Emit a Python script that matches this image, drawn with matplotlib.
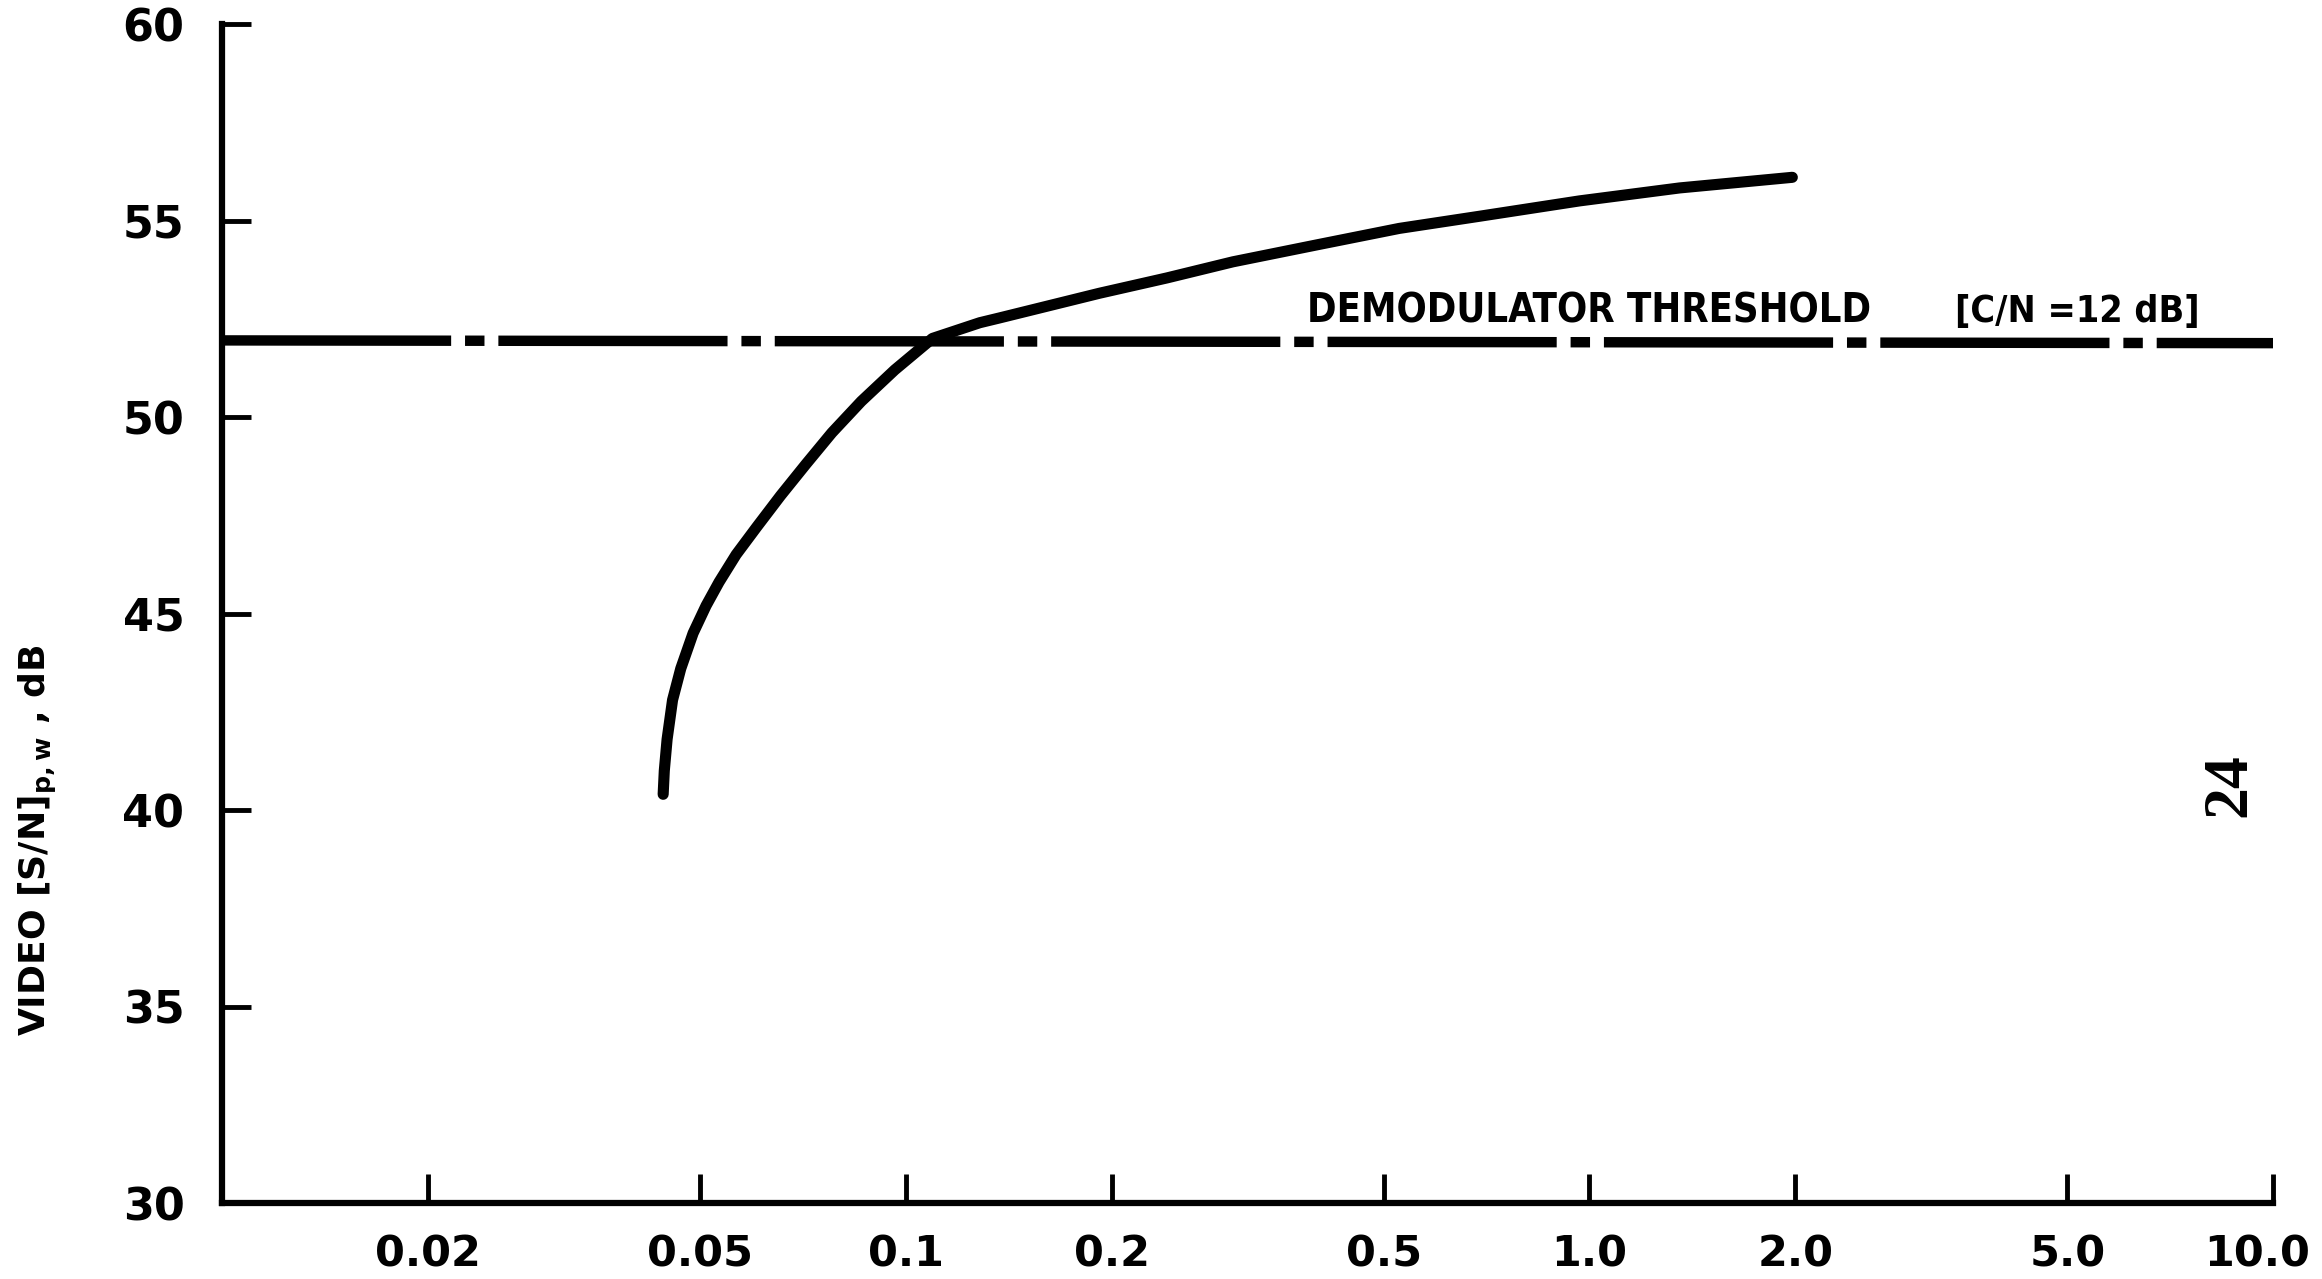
import matplotlib
matplotlib.use("Agg")
import matplotlib.pyplot as plt
from matplotlib.ticker import NullLocator
from matplotlib.transforms import ScaledTranslation

# video S/N curve (x on log scale)
ratio = [0.04418, 0.04435, 0.04477, 0.04560, 0.04688, 0.04887, 0.05105, 0.05333,
         0.05649, 0.06053, 0.06561, 0.07145, 0.07798, 0.08610, 0.09638, 0.1094,
         0.1283, 0.137, 0.192, 0.241, 0.301, 0.399, 0.527,
         0.691, 0.967, 1.355, 1.98]
snr = [40.4, 41.0, 41.8, 42.8, 43.6, 44.5, 45.2, 45.8,
       46.5, 47.2, 48.0, 48.8, 49.6, 50.4, 51.2, 52.0,
       52.4, 52.52, 53.15, 53.54, 53.95, 54.38, 54.8,
       55.11, 55.5, 55.83, 56.1]

# demodulator threshold line
thresh_x = [0.01, 10.0]
thresh_y = [51.95, 51.88]

xticks = [0.02, 0.05, 0.1, 0.2, 0.5, 1.0, 2.0, 5.0, 10.0]
xlabels = ['0.02', '0.05', '0.1', '0.2', '0.5', '1.0', '2.0', '5.0', '10.0']
yticks = [30, 35, 40, 45, 50, 55, 60]

plt.rcParams['font.family'] = 'DejaVu Sans'
plt.rcParams['font.weight'] = 'bold'
plt.rcParams['mathtext.default'] = 'bf'
plt.rcParams['lines.scale_dashes'] = False

fig = plt.figure(figsize=(23.22, 12.79), dpi=100)
ax = fig.add_axes([0.0956, 0.0594, 0.979 - 0.0956, 0.9812 - 0.0594])
ax.set_xscale('log')
ax.set_xlim(0.01, 10)
ax.set_ylim(30, 60)

ax.plot(ratio, snr, color='black', lw=8,
        solid_capstyle='round', solid_joinstyle='round')
line, = ax.plot(thresh_x, thresh_y, color='black', lw=7.5, dash_capstyle='butt')
line.set_dashes((165, 10, 14, 10))

for s in ['top', 'right']:
    ax.spines[s].set_visible(False)
for s in ['left', 'bottom']:
    ax.spines[s].set_linewidth(4.5)

ax.set_xticks(xticks)
ax.xaxis.set_minor_locator(NullLocator())
ax.set_yticks(yticks)
ax.tick_params(direction='in', length=21, width=3.5)
ax.tick_params(axis='x', pad=22, labelsize=31)
ax.tick_params(axis='y', pad=27, labelsize=32)
labels = ax.set_xticklabels(xlabels)
# last label sits a little left of its tick, as on the original sheet
labels[-1].set_transform(labels[-1].get_transform() +
                         ScaledTranslation(-16 / 100, 0, fig.dpi_scale_trans))

ax.text(0.529, 0.747, 'DEMODULATOR THRESHOLD', transform=ax.transAxes,
        fontsize=28.5, fontstretch='condensed', ha='left', va='baseline')
ax.text(0.845, 0.747, '[C/N =12 dB]', transform=ax.transAxes,
        fontsize=27, fontstretch='condensed', ha='left', va='baseline')

fig.text(38 / 2322, 1 - 840 / 1279, r'VIDEO [S/N]$_{p,w}$ , dB',
         rotation=90, ha='center', va='center', fontsize=26)
fig.text(2230 / 2322, 1 - 785 / 1279, '24', rotation=90, ha='center',
         va='center', family='Liberation Serif', weight='bold', fontsize=46)

fig.savefig('out.png', dpi=100, facecolor='white')
